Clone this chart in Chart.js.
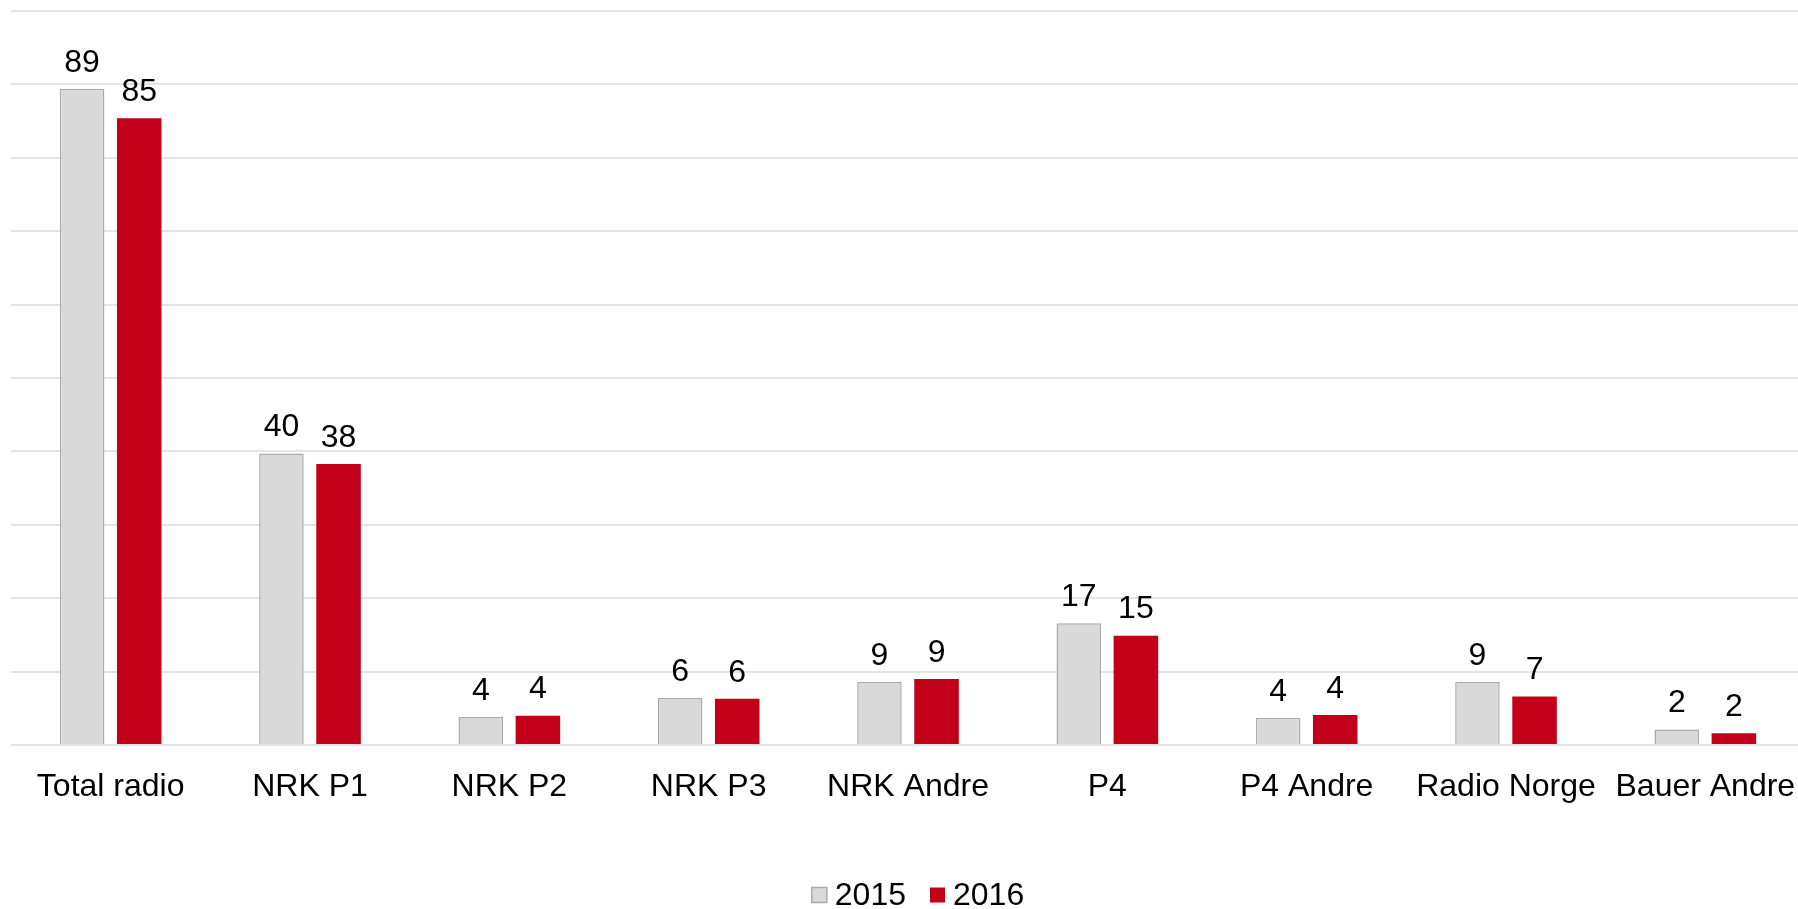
<!DOCTYPE html>
<html>
<head>
<meta charset="utf-8">
<script src="https://cdn.jsdelivr.net/npm/chart.js@4.4.1/dist/chart.umd.min.js"></script>
<style>
    html, body { margin: 0; padding: 0; background: #ffffff; overflow: hidden; }
    #clip { width: 1798px; height: 909px; overflow: hidden; }
    /* plot runs slightly past the right edge, as in the original */
    #wrap { position: relative; width: 1805px; height: 909px; }
</style>
</head>
<body>
<div id="clip"><div id="wrap"><canvas id="radio-chart"></canvas></div></div>
<script>
// --- DATA ---
const categories = ['Total radio', 'NRK P1', 'NRK P2', 'NRK P3', 'NRK Andre', 'P4', 'P4 Andre', 'Radio Norge', 'Bauer Andre'];
const values2015 = [89.4, 39.7, 3.8, 6.4, 8.6, 16.6, 3.7, 8.6, 2.1];
const values2016 = [85.4, 38.3, 4.0, 6.3, 9.0, 14.9, 4.1, 6.6, 1.6];
const seriesLabels = ['2015', '2016'];

const FONT = '"Liberation Sans", Arial, sans-serif';
const FONT_SIZE = 32;
const GREY = '#d9d9d9';
const GREY_BORDER = '#ababab';
const RED = '#c3001a';

// draws the rounded value above each bar
const valueLabels = {
    id: 'valueLabels',
    afterDatasetsDraw(chart) {
        const ctx = chart.ctx;
        ctx.save();
        ctx.font = FONT_SIZE + 'px ' + FONT;
        ctx.fillStyle = '#000000';
        ctx.textAlign = 'center';
        ctx.textBaseline = 'bottom';
        chart.data.datasets.forEach((ds, i) => {
            chart.getDatasetMeta(i).data.forEach((bar, j) => {
                ctx.fillText(Math.round(ds.data[j]), bar.x, bar.y - 10);
            });
        });
        ctx.restore();
    }
};

// compact legend under the axis (tighter box/text gap than the built-in one)
const bottomLegend = {
    id: 'bottomLegend',
    afterDraw(chart) {
        const ctx = chart.ctx;
        const box = 15, gap = 8, itemGap = 24;
        const centerX = 918, centerY = 895;
        ctx.save();
        ctx.font = FONT_SIZE + 'px ' + FONT;
        ctx.textBaseline = 'middle';
        ctx.textAlign = 'left';
        const items = chart.data.datasets;
        const widths = items.map(ds => ctx.measureText(ds.label).width);
        const total = widths.reduce((s, w) => s + box + gap + w, 0) + itemGap * (items.length - 1);
        let x = centerX - total / 2;
        items.forEach((ds, i) => {
            ctx.fillStyle = ds.backgroundColor;
            ctx.fillRect(x, centerY - box / 2, box, box);
            if (ds.borderWidth) {
                ctx.strokeStyle = ds.borderColor;
                ctx.lineWidth = ds.borderWidth;
                ctx.strokeRect(x, centerY - box / 2, box, box);
            }
            ctx.fillStyle = '#000000';
            ctx.fillText(ds.label, x + box + gap, centerY + 1);
            x += box + gap + widths[i] + itemGap;
        });
        ctx.restore();
    }
};

const ctx = document.getElementById('radio-chart').getContext('2d');
new Chart(ctx, {
    type: 'bar',
    data: {
        labels: categories,
        datasets: [
            { label: seriesLabels[0], data: values2015, backgroundColor: GREY, borderColor: GREY_BORDER, borderWidth: 1.5 },
            { label: seriesLabels[1], data: values2016, backgroundColor: RED, borderColor: RED, borderWidth: 0 }
        ]
    },
    options: {
        responsive: true,
        maintainAspectRatio: false,
        animation: false,
        categoryPercentage: 0.573,
        barPercentage: 0.78,
        layout: { padding: { left: 11, right: 0, top: 11, bottom: 51 } },
        plugins: {
            tooltip: { enabled: false },
            legend: { display: false }
        },
        scales: {
            x: {
                grid: { display: false },
                border: { display: false },
                ticks: { font: { family: FONT, size: FONT_SIZE }, color: '#000000', padding: 15, maxRotation: 0 },
                afterFit: (scale) => {
                    scale.height = 113;
                    scale.paddingLeft = 0;
                    scale.paddingRight = 0;
                }
            },
            y: {
                min: 0,
                max: 100,
                ticks: { display: false, stepSize: 10 },
                border: { display: false },
                grid: { color: '#e4e4e4', lineWidth: 2, drawTicks: false }
            }
        }
    },
    plugins: [valueLabels, bottomLegend]
});
</script>
</body>
</html>
